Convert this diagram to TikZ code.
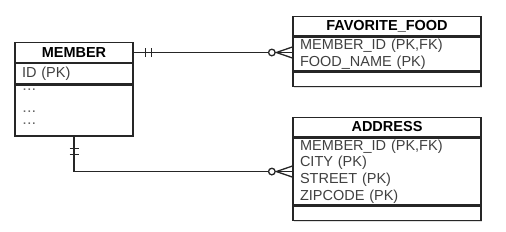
\documentclass[tikz,border=0pt]{standalone}
\usepackage{fontspec}
\setmainfont{Liberation Sans}
\usetikzlibrary{positioning,shadows,decorations.markings}

\begin{document}
\begin{tikzpicture}[x=1pt,y=1pt,
    table/.style={draw=black!85,line width=1.3pt,fill=white,inner sep=0pt,
        drop shadow={shadow xshift=1.2pt,shadow yshift=-1.2pt,opacity=0.25}},
    head/.style={table,font=\fontsize{14.5}{16.7}\selectfont\bfseries,minimum height=19.5pt},
    attr/.style={table,font=\fontsize{14.5}{16.7}\selectfont,text=black!75,align=left,inner xsep=7pt},
    dots/.style={anchor=base west,inner sep=0pt,font=\fontsize{11}{11}\selectfont\bfseries,text=black!60},
    link/.style={draw=black!85,line width=1.3pt},
    one end/.style={postaction={decorate,decoration={markings,
        mark=at position 12pt with {\draw[link] (0,-4.5pt) -- (0,4.5pt);},
        mark=at position 18pt with {\draw[link] (0,-4.5pt) -- (0,4.5pt);}}}},
    many end/.style={postaction={decorate,decoration={markings,
        mark=at position -16pt with {\draw[link] (0,0) -- (16pt,5.5pt) (0,0) -- (16pt,-5.5pt);},
        mark=at position -20.5pt with {\draw[link,fill=white] (0,0) circle (3.3pt);}}}}]

    \useasboundingbox (0,0) rectangle (506,-231);

    \node[head,minimum width=118pt] (mhead) at (74,-52.5) {MEMBER};
    \node[attr,text width=104pt,minimum height=20pt,below=0pt of mhead] (mid) {ID (PK)};
    \node[table,minimum width=118pt,minimum height=51pt,below=0pt of mid] (mrest) {};
    \node[dots] (d1) at (23,-90.5) {.\kern1.5pt.\kern1.5pt.};
    \node[dots] (d2) at (23,-112) {.\kern1.5pt.\kern1.5pt.};
    \node[dots] (d3) at (23,-124.5) {.\kern1.5pt.\kern1.5pt.};

    \node[head,minimum width=188pt] (ffhead) at (387,-26) {FAVORITE\_FOOD};
    \node[attr,text width=174pt,minimum height=34pt,below=0pt of ffhead] (ffattr) {MEMBER\_ID (PK,FK)\\FOOD\_NAME (PK)};
    \node[table,minimum width=188pt,minimum height=14pt,below=0pt of ffattr] (fffoot) {};

    \node[head,minimum width=188pt] (adhead) at (387,-127) {ADDRESS};
    \node[attr,text width=174pt,minimum height=67pt,below=0pt of adhead] (adattr) {MEMBER\_ID (PK,FK)\\CITY (PK)\\STREET (PK)\\ZIPCODE (PK)};
    \node[table,minimum width=188pt,minimum height=14pt,below=0pt of adattr] (adfoot) {};

    \draw[link,one end,many end] (mhead.east) -- (mhead.east -| ffattr.west);
    \draw[link,one end,many end] (mrest.south) |- (adattr.west);
\end{tikzpicture}
\end{document}
